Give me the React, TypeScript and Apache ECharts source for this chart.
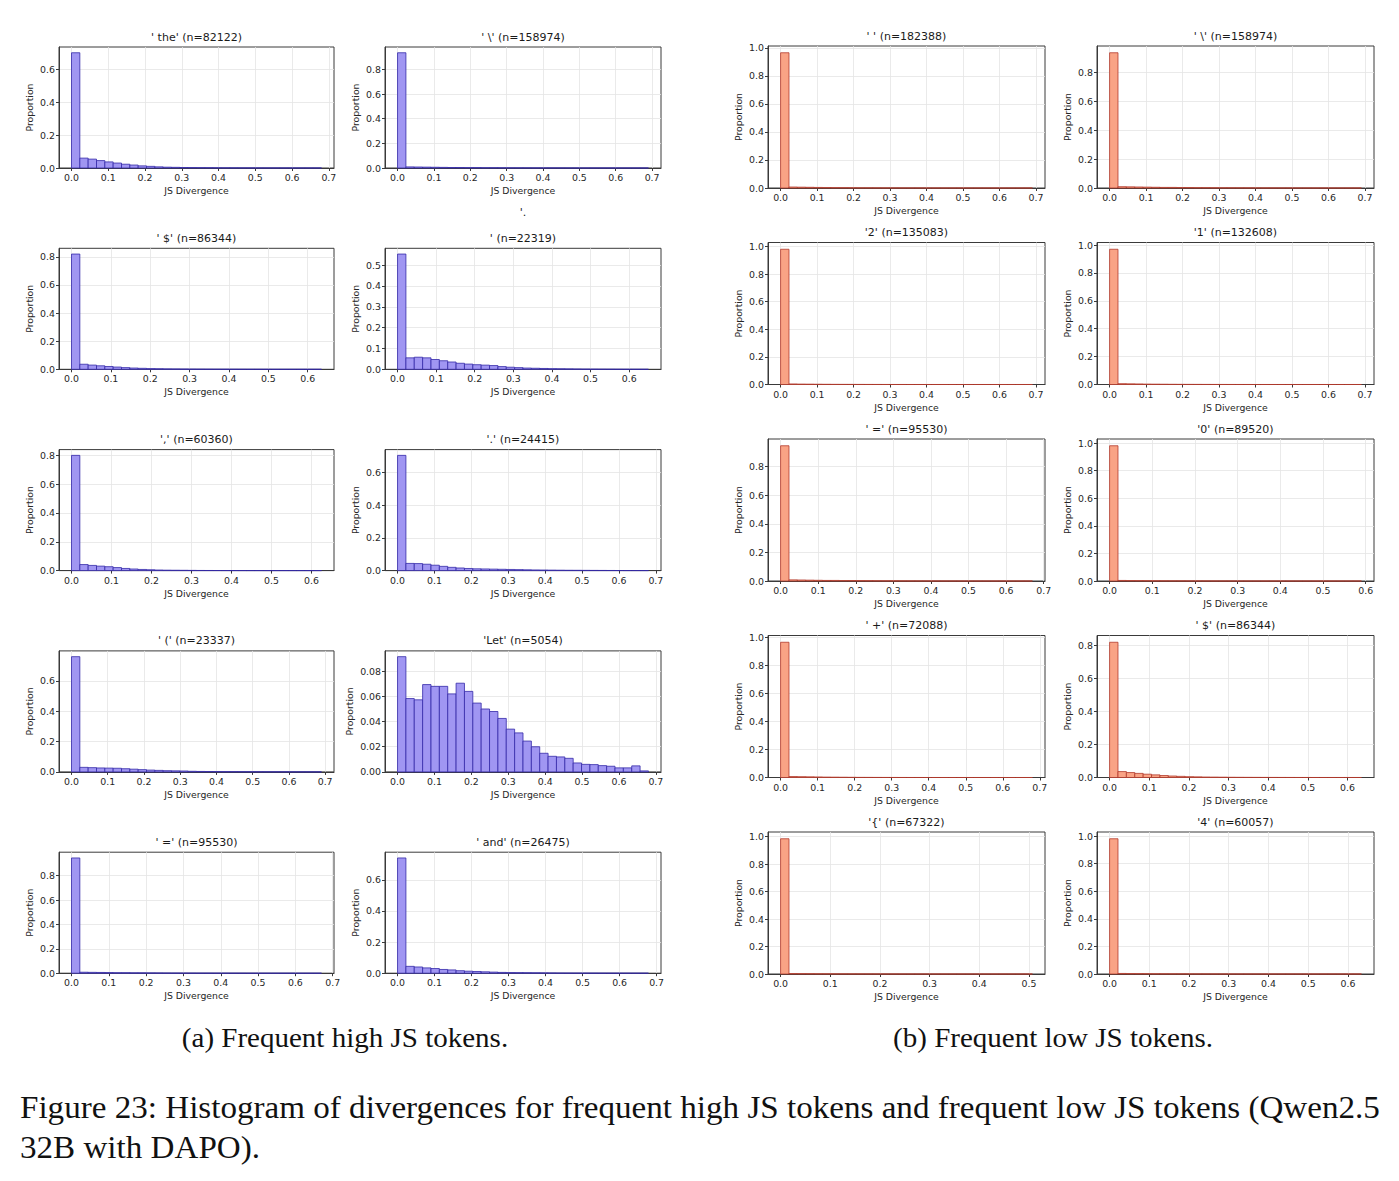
import React, { useEffect, useRef } from "react";
import * as echarts from "echarts";

// ---------- (a) Frequent high JS tokens ----------
const theVals = [0.700, 0.060, 0.054, 0.045, 0.037, 0.030, 0.023, 0.018, 0.013, 0.010, 0.007, 0.005, 0.004, 0.003, 0.0025, 0.002, 0.0016, 0.0012, 0.0009, 0.0007, 0.0005, 0.0004, 0.0003, 0.0002, 0.0002, 0.0001, 0.0001, 0.0001, 0.0001, 0.0001];
const backslashVals = [0.935, 0.009, 0.008, 0.007, 0.006, 0.005, 0.004, 0.004, 0.003, 0.003, 0.002, 0.002, 0.0015, 0.0012, 0.001, 0.0008, 0.0006, 0.0005, 0.0004, 0.0003, 0.0002, 0.0002, 0.0001, 0.0001, 0.0001, 0.0001, 0.0001, 0.00005, 0.00005, 0.00005];
const dollarVals = [0.820, 0.036, 0.030, 0.025, 0.020, 0.016, 0.012, 0.009, 0.007, 0.005, 0.004, 0.003, 0.0025, 0.002, 0.0015, 0.0012, 0.001, 0.0008, 0.0006, 0.0005, 0.0004, 0.0003, 0.0002, 0.0002, 0.0001, 0.0001, 0.0001, 0.0001, 0.0001, 0.0001];
const newlineVals = [0.553, 0.055, 0.058, 0.055, 0.047, 0.041, 0.035, 0.029, 0.025, 0.022, 0.020, 0.018, 0.013, 0.010, 0.008, 0.006, 0.005, 0.004, 0.003, 0.0025, 0.002, 0.0015, 0.001, 0.0008, 0.0006, 0.0004, 0.0003, 0.0002, 0.0002, 0.0001];
const commaVals = [0.800, 0.042, 0.036, 0.031, 0.027, 0.021, 0.015, 0.011, 0.008, 0.006, 0.004, 0.003, 0.0025, 0.002, 0.0015, 0.001, 0.0008, 0.0006, 0.0005, 0.0004, 0.0003, 0.0002, 0.0002, 0.0001, 0.0001, 0.0001, 0.0001, 0.0001, 0.0001, 0.0001];
const periodVals = [0.705, 0.044, 0.043, 0.039, 0.033, 0.026, 0.020, 0.016, 0.013, 0.011, 0.010, 0.009, 0.008, 0.007, 0.006, 0.005, 0.004, 0.0035, 0.003, 0.0025, 0.002, 0.0018, 0.0015, 0.0012, 0.001, 0.0008, 0.0006, 0.0004, 0.0003, 0.0002];
const parenVals = [0.760, 0.030, 0.028, 0.026, 0.025, 0.024, 0.021, 0.018, 0.015, 0.012, 0.010, 0.008, 0.007, 0.006, 0.004, 0.003, 0.0025, 0.002, 0.0015, 0.0012, 0.001, 0.0008, 0.0006, 0.0005, 0.0004, 0.0003, 0.0002, 0.0002, 0.0001, 0.0001];
const letVals = [0.0916, 0.0583, 0.0573, 0.0694, 0.068, 0.068, 0.062, 0.0705, 0.064, 0.0547, 0.050, 0.048, 0.0425, 0.034, 0.031, 0.0245, 0.020, 0.0148, 0.0124, 0.0119, 0.0108, 0.0071, 0.006, 0.0058, 0.005, 0.0045, 0.0032, 0.0032, 0.0048, 0.0008];
const eqVals = [0.945, 0.008, 0.007, 0.006, 0.005, 0.004, 0.004, 0.003, 0.003, 0.0025, 0.002, 0.0015, 0.0012, 0.001, 0.0008, 0.0006, 0.0005, 0.0004, 0.0003, 0.0002, 0.0002, 0.0001, 0.0001, 0.0001, 0.0001, 0.0001, 0.0001, 0.00005, 0.00005, 0.00005];
const andVals = [0.740, 0.044, 0.040, 0.034, 0.030, 0.024, 0.021, 0.016, 0.013, 0.011, 0.009, 0.007, 0.005, 0.004, 0.0035, 0.003, 0.0025, 0.002, 0.0015, 0.001, 0.0008, 0.0006, 0.0005, 0.0004, 0.0003, 0.0002, 0.0002, 0.0001, 0.0001, 0.0001];

const highTokens = ["' the'", "' \\'", "' $'", "'.\n'", "','", "'.'", "' ('", "'Let'", "' ='", "' and'"];
const highCounts = [82122, 158974, 86344, 22319, 60360, 24415, 23337, 5054, 95530, 26475];
const highSeries = [theVals, backslashVals, dollarVals, newlineVals, commaVals, periodVals, parenVals, letVals, eqVals, andVals];
const highMaxDiv = [0.68, 0.69, 0.635, 0.65, 0.625, 0.68, 0.69, 0.68, 0.67, 0.678];
const highYStep = [0.2, 0.2, 0.2, 0.1, 0.2, 0.2, 0.2, 0.02, 0.2, 0.2];

// ---------- (b) Frequent low JS tokens ----------
const spaceVals = [0.965, 0.007, 0.006, 0.005, 0.004, 0.003, 0.0025, 0.002, 0.0015, 0.001, 0.0008, 0.0006, 0.0005, 0.0004, 0.0003, 0.0002, 0.0002, 0.0001, 0.0001, 0.0001, 0.0001, 0.00005, 0.00005, 0.00005, 0.00005, 0.00005, 0.00005, 0.00005, 0.00005, 0.00005];
const twoVals = [0.980, 0.004, 0.003, 0.0025, 0.002, 0.0015, 0.0012, 0.001, 0.0008, 0.0006, 0.0005, 0.0004, 0.0003, 0.0002, 0.0002, 0.0001, 0.0001, 0.0001, 0.00005, 0.00005, 0.00005, 0.00005, 0.00005, 0.00005, 0.00005, 0.00005, 0.00005, 0.00005, 0.00005, 0.00005];
const oneVals = [0.970, 0.006, 0.005, 0.004, 0.003, 0.0025, 0.002, 0.0015, 0.0012, 0.001, 0.0008, 0.0006, 0.0005, 0.0004, 0.0003, 0.0002, 0.0002, 0.0001, 0.0001, 0.0001, 0.00005, 0.00005, 0.00005, 0.00005, 0.00005, 0.00005, 0.00005, 0.00005, 0.00005, 0.00005];
const zeroVals = [0.980, 0.004, 0.003, 0.0025, 0.002, 0.0015, 0.0012, 0.001, 0.0008, 0.0006, 0.0005, 0.0004, 0.0003, 0.0002, 0.0002, 0.0001, 0.0001, 0.0001, 0.00005, 0.00005, 0.00005, 0.00005, 0.00005, 0.00005, 0.00005, 0.00005, 0.00005, 0.00005, 0.00005, 0.00005];
const plusVals = [0.965, 0.007, 0.006, 0.005, 0.004, 0.003, 0.0025, 0.002, 0.0015, 0.001, 0.0008, 0.0006, 0.0005, 0.0004, 0.0003, 0.0002, 0.0002, 0.0001, 0.0001, 0.0001, 0.0001, 0.00005, 0.00005, 0.00005, 0.00005, 0.00005, 0.00005, 0.00005, 0.00005, 0.00005];
const braceVals = [0.985, 0.003, 0.0025, 0.002, 0.0015, 0.0012, 0.001, 0.0008, 0.0006, 0.0005, 0.0004, 0.0003, 0.0002, 0.0002, 0.0001, 0.0001, 0.0001, 0.00005, 0.00005, 0.00005, 0.00005, 0.00005, 0.00005, 0.00005, 0.00005, 0.00005, 0.00005, 0.00005, 0.00005, 0.00005];
const fourVals = [0.980, 0.004, 0.003, 0.0025, 0.002, 0.0015, 0.0012, 0.001, 0.0008, 0.0006, 0.0005, 0.0004, 0.0003, 0.0002, 0.0002, 0.0001, 0.0001, 0.0001, 0.00005, 0.00005, 0.00005, 0.00005, 0.00005, 0.00005, 0.00005, 0.00005, 0.00005, 0.00005, 0.00005, 0.00005];

const lowTokens = ["' '", "' \\'", "'2'", "'1'", "' ='", "'0'", "' +'", "' $'", "'{'", "'4'"];
const lowCounts = [182388, 158974, 135083, 132608, 95530, 89520, 72088, 86344, 67322, 60057];
const lowSeries = [spaceVals, backslashVals, twoVals, oneVals, eqVals, zeroVals, plusVals, dollarVals, braceVals, fourVals];
const lowMaxDiv = [0.69, 0.69, 0.69, 0.69, 0.67, 0.59, 0.68, 0.635, 0.507, 0.634];
const lowYStep = [0.2, 0.2, 0.2, 0.2, 0.2, 0.2, 0.2, 0.2, 0.2, 0.2];

const subCaptions = ["(a) Frequent high JS tokens.", "(b) Frequent low JS tokens."];
const figureCaption = [
  "Figure 23: Histogram of divergences for frequent high JS tokens and frequent low JS tokens (Qwen2.5",
  "32B with DAPO).",
];

const BIN_COUNT = 30;
const SANS = "DejaVu Sans";
const SERIF = "Liberation Serif";
const TXT = "#262626";

function ticksUpTo(maxV: number, step: number): number[] {
  const out: number[] = [];
  for (let k = 0; k * step <= maxV + 1e-9; k++) out.push(Math.round(k * step * 1e6) / 1e6);
  return out;
}

function buildOption() {
  const grids: any[] = [];
  const xAxes: any[] = [];
  const yAxes: any[] = [];
  const series: any[] = [];
  const graphics: any[] = [];

  const panels: any[] = [];
  highTokens.forEach((t, i) =>
    panels.push({ side: "a", row: Math.floor(i / 2), col: i % 2, token: t, n: highCounts[i], vals: highSeries[i], R: highMaxDiv[i], yStep: highYStep[i] })
  );
  lowTokens.forEach((t, i) =>
    panels.push({ side: "b", row: Math.floor(i / 2), col: i % 2, token: t, n: lowCounts[i], vals: lowSeries[i], R: lowMaxDiv[i], yStep: lowYStep[i] })
  );

  panels.forEach((p, i) => {
    const g =
      p.side === "a"
        ? { left: [59, 385][p.col], width: [275, 276][p.col], top: 47 + p.row * 201.3, height: 121 }
        : { left: [768, 1097][p.col], width: 277, top: 46 + p.row * 196.5, height: 142 };
    grids.push({ ...g, show: true, borderColor: "#3a3a3a", borderWidth: 1, backgroundColor: "transparent", containLabel: false });

    const xMin = -0.05 * p.R;
    const xMax = 1.05 * p.R;
    const xTicks = ticksUpTo(xMax, 0.1);
    const yMax = 1.05 * Math.max(...p.vals);
    const yTicks = ticksUpTo(yMax, p.yStep);
    const yDec = p.yStep < 0.05 ? 2 : 1;

    xAxes.push({
      gridIndex: i,
      type: "value",
      min: xMin,
      max: xMax,
      axisLine: { show: true, onZero: false, lineStyle: { color: "#3a3a3a", width: 1 } },
      axisTick: { show: true, length: 3, customValues: xTicks, lineStyle: { color: "#3a3a3a" } },
      axisLabel: { customValues: xTicks, formatter: (v: number) => v.toFixed(1), fontSize: 9.4, color: TXT, margin: 5, fontFamily: SANS },
      splitLine: { show: true, lineStyle: { color: "#e4e4e4", width: 0.8 } },
      name: "JS Divergence",
      nameLocation: "middle",
      nameGap: 18,
      nameTextStyle: { fontSize: 9.3, color: TXT, fontFamily: SANS },
    });
    yAxes.push({
      gridIndex: i,
      type: "value",
      min: 0,
      max: yMax,
      axisLine: { show: true, onZero: false, lineStyle: { color: "#3a3a3a", width: 1 } },
      axisTick: { show: true, length: 3, customValues: yTicks, lineStyle: { color: "#3a3a3a" } },
      axisLabel: { customValues: yTicks, formatter: (v: number) => v.toFixed(yDec), fontSize: 9.4, color: TXT, margin: 4, fontFamily: SANS },
      splitLine: { show: true, lineStyle: { color: "#e4e4e4", width: 0.8 } },
      name: "Proportion",
      nameLocation: "middle",
      nameGap: yDec === 2 ? 31 : 25,
      nameTextStyle: { fontSize: 9.3, color: TXT, fontFamily: SANS },
    });

    const fill = p.side === "a" ? "#a096f2" : "#f9a385";
    const stroke = p.side === "a" ? "#3328a8" : "#b33a2c";
    const data = p.vals.map((v: number, k: number) => [(k * p.R) / BIN_COUNT, ((k + 1) * p.R) / BIN_COUNT, v]);
    series.push({
      type: "custom",
      xAxisIndex: i,
      yAxisIndex: i,
      data,
      encode: { x: [0, 1], y: 2 },
      renderItem: (params: any, api: any) => {
        const a = api.coord([api.value(0), api.value(2)]);
        const b = api.coord([api.value(1), 0]);
        return {
          type: "rect",
          shape: { x: a[0], y: a[1], width: b[0] - a[0], height: b[1] - a[1] },
          style: { fill, stroke, lineWidth: 0.8 },
        };
      },
    });

    const cx = g.left + g.width / 2;
    const title = `${p.token} (n=${p.n})`;
    const multi = title.includes("\n");
    graphics.push({
      type: "text",
      x: cx,
      y: multi ? g.top - 10 - 13 : g.top - 10,
      style: {
        text: title,
        textAlign: "center",
        textVerticalAlign: "middle",
        fontSize: 11,
        fontFamily: SANS,
        fill: "#1a1a1a",
        lineHeight: multi ? 26 : 13,
      },
    });
  });

  graphics.push({
    type: "text", x: 345, y: 1038, scaleX: 1.075,
    style: { text: subCaptions[0], textAlign: "center", textVerticalAlign: "middle", fontSize: 27, fontFamily: SERIF, fill: "#111" },
  });
  graphics.push({
    type: "text", x: 1053, y: 1038, scaleX: 1.075,
    style: { text: subCaptions[1], textAlign: "center", textVerticalAlign: "middle", fontSize: 27, fontFamily: SERIF, fill: "#111" },
  });
  graphics.push({
    type: "text", x: 20, y: 1107, scaleX: 1.068,
    style: { text: figureCaption[0], textAlign: "left", textVerticalAlign: "middle", fontSize: 31, fontFamily: SERIF, fill: "#111" },
  });
  graphics.push({
    type: "text", x: 20, y: 1147, scaleX: 1.068,
    style: { text: figureCaption[1], textAlign: "left", textVerticalAlign: "middle", fontSize: 31, fontFamily: SERIF, fill: "#111" },
  });

  return {
    animation: false,
    backgroundColor: "#ffffff",
    grid: grids,
    xAxis: xAxes,
    yAxis: yAxes,
    series,
    graphic: graphics,
  };
}

export default function App() {
  const ref = useRef<HTMLDivElement>(null);
  useEffect(() => {
    const chart = echarts.init(ref.current as HTMLDivElement, null, { renderer: "svg" });
    chart.setOption(buildOption() as any);
    return () => chart.dispose();
  }, []);
  return (
    <div
      ref={ref}
      style={{ position: "fixed", left: 0, top: 0, width: 1399, height: 1181, background: "#fff" }}
    />
  );
}
